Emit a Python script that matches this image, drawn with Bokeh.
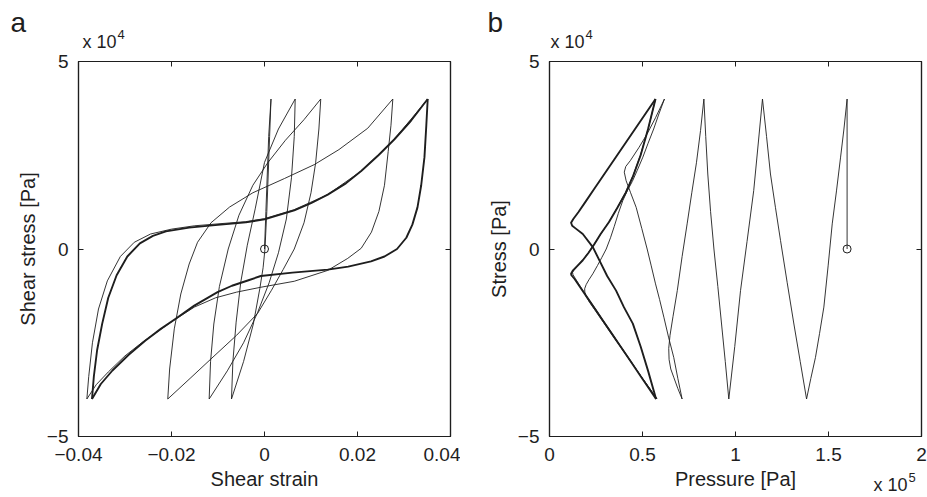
from bokeh.plotting import figure
from bokeh.models import Range1d, FixedTicker, LinearAxis, Label, CustomJSTickFormatter
from bokeh.layouts import row
from bokeh.embed import file_html
from bokeh.resources import INLINE

# ---------------- data ----------------
# Panel a: shear strain [-] vs shear stress [x 1e4 Pa]
a_A_strain = [0.0, 0.0003, 0.0006, 0.0009, 0.0014]
a_A_stress = [0.0, 1.0, 2.0, 3.0, 4.0]
a_B_strain = [0.0014, 0.0011, 0.0008, 0.0005, 0.0001, -0.0003, -0.0010, -0.0024, -0.0045, -0.0071]
a_B_stress = [4.0, 3.0, 2.0, 1.0, 0.0, -0.5, -1.05, -2.0, -3.0, -4.0]
a_C_strain = [-0.0071, -0.0068, -0.0061, -0.0051, -0.0037, -0.0020, 0.0000, 0.0030, 0.0066]
a_C_stress = [-4.0, -3.0, -1.95, -0.88, 0.1, 1.07, 2.31, 3.2, 4.0]
a_D_strain = [0.0066, 0.0064, 0.0058, 0.0047, 0.0030, 0.0010, -0.0015, -0.0045, -0.0080, -0.0119]
a_D_stress = [4.0, 3.0, 1.9, 0.8, -0.1, -0.9, -1.7, -2.5, -3.25, -4.0]
a_E_strain = [-0.0119, -0.0116, -0.0109, -0.0097, -0.0078, -0.0055, -0.0025, 0.0007, 0.0045, 0.0085, 0.0121]
a_E_stress = [-4.0, -3.0, -2.0, -1.0, 0.0, 0.9, 1.7, 2.3, 2.9, 3.45, 4.0]
a_F_strain = [0.0121, 0.0117, 0.0110, 0.0100, 0.0085, 0.0064, 0.0040, 0.0015, -0.0015, -0.0060, -0.0115, -0.0160, -0.0208]
a_F_stress = [4.0, 3.2, 2.3, 1.5, 0.7, 0.0, -0.55, -1.1, -1.72, -2.3, -2.93, -3.45, -4.0]
a_G_strain = [-0.0208, -0.0204, -0.0194, -0.0180, -0.0162, -0.0144, -0.0115, -0.0075, -0.0025, 0.0043, 0.0107, 0.0160, 0.0222, 0.0276]
a_G_stress = [-4.0, -3.2, -2.13, -1.2, -0.4, 0.18, 0.7, 1.12, 1.5, 1.88, 2.25, 2.65, 3.22, 4.0]
a_H_strain = [0.0276, 0.0272, 0.0266, 0.0258, 0.0246, 0.0230, 0.0208, 0.0179, 0.0136, 0.0064, -0.0008, -0.0060,
              -0.0105, -0.0151, -0.0195, -0.0262, -0.0300, -0.0336, -0.0362, -0.0382]
a_H_stress = [4.0, 3.3, 2.6, 1.7, 1.0, 0.45, 0.02, -0.25, -0.57, -0.86, -1.02, -1.15,
              -1.3, -1.55, -1.9, -2.48, -2.85, -3.28, -3.62, -4.0]
a_I_strain = [-0.0382, -0.0378, -0.0370, -0.0357, -0.0338, -0.0310, -0.0280, -0.0245, -0.0200, -0.0150, -0.0100,
              -0.0040, 0.0000, 0.0064, 0.0136, 0.0208, 0.0279, 0.0351]
a_I_stress = [-4.0, -3.4, -2.5, -1.6, -0.85, -0.2, 0.18, 0.40, 0.53, 0.62, 0.67,
              0.73, 0.81, 1.05, 1.45, 2.08, 2.92, 4.0]
a_J_strain = [0.0351, 0.0348, 0.0344, 0.0337, 0.0329, 0.0318, 0.0305, 0.0285, 0.0258, 0.0229, 0.0180, 0.0136,
              0.0060, -0.0008, -0.0036, -0.0070, -0.0101, -0.0151, -0.0191, -0.0223, -0.0256, -0.0292,
              -0.0327, -0.0352, -0.0371]
a_J_stress = [4.0, 3.3, 2.45, 1.7, 1.11, 0.65, 0.3, 0.0, -0.2, -0.33, -0.47, -0.55,
              -0.63, -0.72, -0.84, -0.98, -1.15, -1.51, -1.86, -2.13, -2.44, -2.82,
              -3.24, -3.6, -4.0]
a_K_strain = [-0.0371, -0.0367, -0.0360, -0.0349, -0.0336, -0.0318, -0.0295, -0.0268, -0.0240, -0.0212, -0.0162,
              -0.0112, -0.0040, 0.0000, 0.0064, 0.0100, 0.0136, 0.0175, 0.0208, 0.0245, 0.0279, 0.0315, 0.0351]
a_K_stress = [-4.0, -3.4, -2.7, -1.99, -1.3, -0.7, -0.2, 0.15, 0.35, 0.47, 0.57,
              0.63, 0.71, 0.79, 1.03, 1.22, 1.45, 1.75, 2.08, 2.5, 2.92, 3.42, 4.0]
a_start_strain = [0.0]
a_start_stress = [0.0]

# Panel b: pressure [x 1e5 Pa] vs stress [x 1e4 Pa]
b_A_p = [1.60, 1.60]
b_A_s = [0.0, 4.0]
b_B_p = [1.600, 1.583, 1.565, 1.543, 1.520, 1.498, 1.475, 1.452, 1.430, 1.405, 1.382]
b_B_s = [4.0, 3.2, 2.45, 1.55, 0.67, -0.45, -1.55, -2.25, -2.89, -3.45, -4.0]
b_C_p = [1.382, 1.348, 1.314, 1.278, 1.242, 1.215, 1.188, 1.167, 1.145]
b_C_s = [-4.0, -3.0, -2.0, -0.9, 0.23, 1.1, 2.0, 3.0, 4.0]
b_D_p = [1.145, 1.122, 1.098, 1.062, 1.027, 0.996, 0.964]
b_D_s = [4.0, 2.8, 1.56, 0.2, -1.11, -2.6, -4.0]
b_E_p = [0.964, 0.945, 0.925, 0.905, 0.884, 0.866, 0.851, 0.840, 0.830]
b_E_s = [-4.0, -3.0, -2.0, -1.0, 0.0, 1.0, 2.0, 3.0, 4.0]
b_F_p = [0.830, 0.812, 0.790, 0.765, 0.740, 0.713, 0.687, 0.664, 0.648, 0.641, 0.643, 0.652, 0.668, 0.690, 0.713]
b_F_s = [4.0, 3.16, 2.3, 1.5, 0.67, -0.2, -1.11, -1.8, -2.3, -2.65, -2.95, -3.2, -3.42, -3.72, -4.0]
b_G_p = [0.713, 0.690, 0.668, 0.640, 0.615, 0.592, 0.570, 0.547, 0.525, 0.496, 0.466, 0.436, 0.412, 0.402,
         0.410, 0.435, 0.480, 0.525, 0.570, 0.618]
b_G_s = [-4.0, -3.45, -2.89, -2.35, -1.82, -1.35, -0.93, -0.45, 0.0, 0.55, 1.11, 1.5, 1.82, 2.05,
         2.2, 2.36, 2.7, 3.07, 3.5, 4.0]
b_H_p = [0.618, 0.588, 0.560, 0.530, 0.502, 0.472, 0.445, 0.418, 0.394, 0.370, 0.348, 0.328, 0.305, 0.282,
         0.258, 0.233, 0.212, 0.197, 0.189, 0.190, 0.198, 0.215, 0.243, 0.282, 0.331, 0.380, 0.436, 0.493,
         0.539, 0.578]
b_H_s = [4.0, 3.6, 3.2, 2.82, 2.45, 2.1, 1.8, 1.55, 1.29, 0.95, 0.6, 0.3, 0.0, -0.22,
         -0.44, -0.66, -0.82, -0.95, -1.06, -1.15, -1.27, -1.42, -1.62, -1.9, -2.25, -2.6, -3.0, -3.4,
         -3.72, -4.0]
b_I_p = [0.578, 0.538, 0.493, 0.439, 0.384, 0.336, 0.288, 0.250, 0.205, 0.166, 0.138, 0.126, 0.124, 0.132,
         0.155, 0.183, 0.213, 0.243, 0.278, 0.322, 0.366, 0.410, 0.450, 0.490, 0.530, 0.570]
b_I_s = [-4.0, -3.72, -3.4, -3.0, -2.6, -2.25, -1.9, -1.62, -1.3, -1.0, -0.78, -0.68, -0.62, -0.55,
         -0.42, -0.27, -0.07, 0.15, 0.42, 0.74, 1.12, 1.52, 1.97, 2.52, 3.2, 4.0]
b_J_p = [0.570, 0.515, 0.460, 0.405, 0.350, 0.295, 0.240, 0.195, 0.155, 0.128, 0.116, 0.122, 0.140, 0.179,
         0.233, 0.269, 0.310, 0.358, 0.400, 0.448, 0.490, 0.530, 0.573]
b_J_s = [4.0, 3.6, 3.2, 2.8, 2.4, 2.0, 1.6, 1.27, 0.98, 0.80, 0.70, 0.62, 0.55, 0.40,
         0.05, -0.31, -0.72, -1.11, -1.55, -1.99, -2.6, -3.25, -4.0]
b_K_p = [0.573, 0.535, 0.491, 0.437, 0.382, 0.334, 0.286, 0.248, 0.205, 0.165, 0.135, 0.118, 0.116, 0.125,
         0.150, 0.179, 0.210, 0.240, 0.275, 0.320, 0.365, 0.410, 0.450, 0.490, 0.530, 0.570]
b_K_s = [-4.0, -3.72, -3.4, -3.0, -2.6, -2.25, -1.9, -1.62, -1.31, -1.02, -0.80, -0.70, -0.66, -0.58,
         -0.45, -0.30, -0.10, 0.12, 0.40, 0.72, 1.10, 1.50, 1.95, 2.50, 3.20, 4.0]
b_start_p = [1.60]
b_start_s = [0.0]

a_xticks = [-0.04, -0.02, 0.0, 0.02, 0.04]
b_xticks = [0.0, 0.5, 1.0, 1.5, 2.0]
yticks = [-5, 0, 5]

# ---------------- styling ----------------
INK = "#1e1e1e"
FONT = "Liberation Sans"
THIN = 0.9
THICK = 1.9

fmt = CustomJSTickFormatter(code="""
    var v = Math.round(tick * 100) / 100;
    if (Math.abs(v) < 1e-12) { v = 0; }
    return v.toString().replace('-', '\\u2212');
""")
blank_fmt = CustomJSTickFormatter(code="return '';")


def make_fig(xr, xticks, width, left, right, xlabel, ylabel):
    p = figure(width=width, height=497, x_range=Range1d(*xr), y_range=Range1d(-5, 5),
               output_backend="svg", toolbar_location=None,
               min_border_left=left, min_border_right=right,
               min_border_top=61, min_border_bottom=61)
    p.xgrid.grid_line_color = None
    p.ygrid.grid_line_color = None
    p.outline_line_color = INK
    p.outline_line_width = 1.2
    p.background_fill_color = "white"
    p.border_fill_color = "white"
    for ax, ticks in ((p.xaxis[0], xticks), (p.yaxis[0], yticks)):
        ax.ticker = FixedTicker(ticks=ticks)
        ax.formatter = fmt
        ax.major_tick_in = 5
        ax.major_tick_out = 0
        ax.minor_tick_line_color = None
        ax.axis_line_color = INK
        ax.axis_line_width = 1.2
        ax.major_tick_line_color = INK
        ax.major_label_text_font = FONT
        ax.major_label_text_font_size = "19px"
        ax.major_label_text_color = INK
        ax.axis_label_text_font = FONT
        ax.axis_label_text_font_size = "20px"
        ax.axis_label_text_font_style = "normal"
        ax.axis_label_text_color = INK
    p.xaxis.axis_label = xlabel
    p.yaxis.axis_label = ylabel
    p.xaxis.major_label_standoff = 11
    p.yaxis.major_label_standoff = 10
    p.xaxis.axis_label_standoff = 4
    p.yaxis.axis_label_standoff = 5
    # box ticks on top and right (no labels)
    for place, ticks in (("above", xticks), ("right", yticks)):
        ax = LinearAxis(ticker=FixedTicker(ticks=ticks), formatter=blank_fmt,
                        major_tick_in=5, major_tick_out=0, minor_tick_line_color=None,
                        axis_line_color=INK, axis_line_width=1.2, major_tick_line_color=INK,
                        major_label_text_font_size="0px", major_label_standoff=0)
        p.add_layout(ax, place)
    return p


pa = make_fig((-0.04, 0.04), a_xticks, 460, 78, 10, "Shear strain", "Shear stress [Pa]")
pb = make_fig((0.0, 2.0), b_xticks, 467, 89, 6, "Pressure [Pa]", "Stress [Pa]")

for xs, ys, w in ((a_A_strain, a_A_stress, THIN), (a_B_strain, a_B_stress, THIN),
                  (a_C_strain, a_C_stress, THIN), (a_D_strain, a_D_stress, THIN),
                  (a_E_strain, a_E_stress, THIN), (a_F_strain, a_F_stress, THIN),
                  (a_G_strain, a_G_stress, THIN), (a_H_strain, a_H_stress, THIN),
                  (a_I_strain, a_I_stress, THIN), (a_J_strain, a_J_stress, THICK),
                  (a_K_strain, a_K_stress, THICK)):
    pa.line(xs, ys, line_color=INK, line_width=w, line_join="round")
pa.scatter(a_start_strain, a_start_stress, marker="circle", size=8,
           fill_color=None, line_color=INK, line_width=1)

for xs, ys, w in ((b_A_p, b_A_s, THIN), (b_B_p, b_B_s, THIN), (b_C_p, b_C_s, THIN),
                  (b_D_p, b_D_s, THIN), (b_E_p, b_E_s, THIN), (b_F_p, b_F_s, THIN),
                  (b_G_p, b_G_s, THIN), (b_H_p, b_H_s, THIN), (b_I_p, b_I_s, THIN),
                  (b_J_p, b_J_s, THICK), (b_K_p, b_K_s, THICK)):
    pb.line(xs, ys, line_color=INK, line_width=w, line_join="round")
pb.scatter(b_start_p, b_start_s, marker="circle", size=8,
           fill_color=None, line_color=INK, line_width=1)


def lab(p, side, x, y, text, dx, dy, size, align="left"):
    # placed in a side panel so that it is not clipped to the frame;
    # position still follows the data scales + pixel offsets
    p.add_layout(Label(x=x, y=y, x_units="data", y_units="data", x_offset=dx, y_offset=dy,
                       text=text, text_font=FONT, text_font_size=size, text_color=INK,
                       text_align=align, text_baseline="alphabetic"), side)


# panel a
lab(pa, "above", -0.04, 5, "a", -68, 39, "28px")
lab(pa, "above", -0.04, 5, "x 10", 4, 20, "18px")
lab(pa, "right", -0.04, 5, "4", 39, 27, "13px")
# panel b
lab(pb, "left", 0.0, 5, "b", -62, 39, "28px")
lab(pb, "above", 0.0, 5, "x 10", 1, 20, "18px")
lab(pb, "above", 0.0, 5, "4", 36, 27, "13px")
lab(pb, "above", 2.0, -5, "x 10", -14, -48, "18px", align="right")
lab(pb, "left", 2.0, -5, "5", -13, -41, "13px")

layout = row(pa, pb)
open("out.html", "w").write(file_html(layout, INLINE))
